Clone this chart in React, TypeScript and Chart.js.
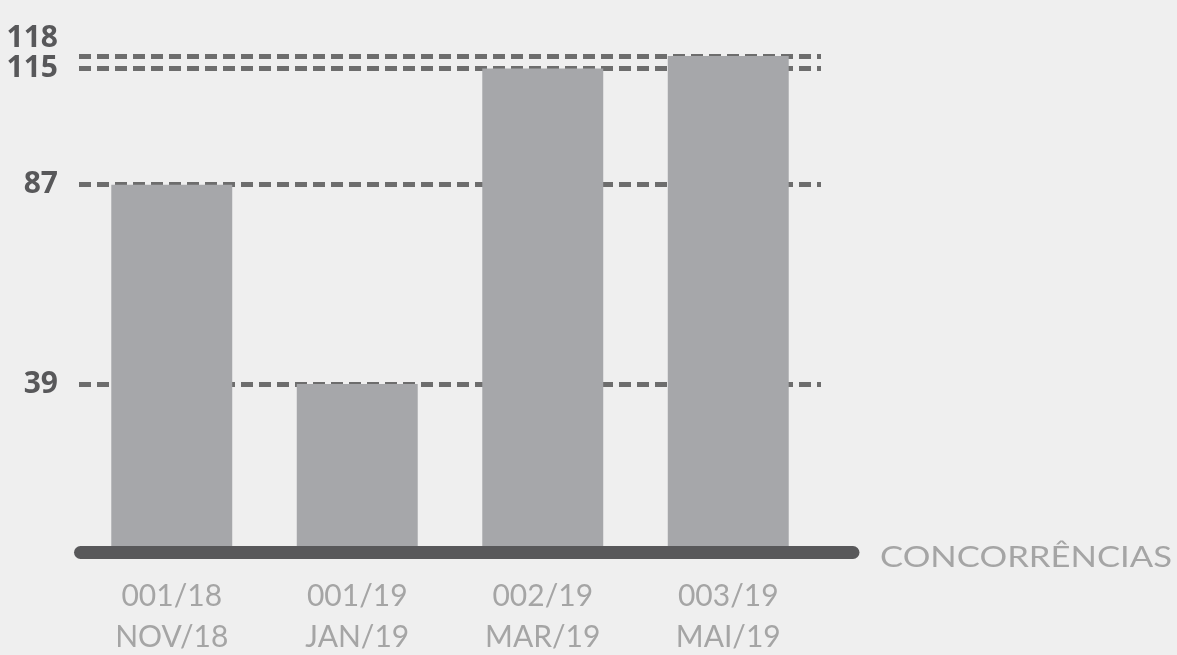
import React, { useEffect, useRef } from "react";
import { Chart, registerables } from "chart.js";

Chart.register(...registerables);

const categoryCodes = ["001/18", "001/19", "002/19", "003/19"];
const categoryMonths = ["NOV/18", "JAN/19", "MAR/19", "MAI/19"];
const values = [87, 39, 115, 118];
const tickValues = [39, 87, 115, 118];
const axisTitle = "CONCORRÊNCIAS";

const BG = "#efefef";
const BAR = "#a6a7aa";
const DARK = "#58585a";
const GRID = "#6d6d6d";
const LIGHT = "#a5a5a5";

const baselinePlugin = {
  id: "baselinePlugin",
  afterDatasetsDraw(chart: any) {
    const { ctx, chartArea } = chart;
    const y = chart.scales.y.getPixelForValue(0) + 6.5;
    ctx.save();
    ctx.strokeStyle = DARK;
    ctx.lineWidth = 13;
    ctx.lineCap = "round";
    ctx.beginPath();
    ctx.moveTo(chartArea.left + 1.5, y);
    ctx.lineTo(chartArea.right + 32, y);
    ctx.stroke();
    ctx.restore();

    ctx.save();
    ctx.fillStyle = LIGHT;
    ctx.font = "400 28px Lato";
    ctx.textBaseline = "alphabetic";
    ctx.textAlign = "left";
    const target = 292;
    const w = ctx.measureText(axisTitle).width;
    const sx = target / w;
    ctx.translate(chartArea.right + 59, y + 14);
    ctx.scale(sx, 1);
    ctx.fillText(axisTitle, 0, 0);
    ctx.restore();
  },
};

export default function App() {
  const ref = useRef<HTMLCanvasElement | null>(null);

  useEffect(() => {
    if (!ref.current) return;
    const chart = new Chart(ref.current, {
      type: "bar",
      data: {
        labels: categoryCodes.map((c, i) => [c, categoryMonths[i]]),
        datasets: [
          {
            data: values,
            backgroundColor: BAR,
            borderWidth: 0,
            barPercentage: 0.652,
            categoryPercentage: 1,
          },
        ],
      },
      options: {
        responsive: true,
        maintainAspectRatio: false,
        animation: false,
        layout: { padding: { top: 27, right: 356, left: 0, bottom: 0 } },
        plugins: {
          legend: { display: false },
          tooltip: { enabled: false },
        },
        scales: {
          x: {
            grid: { display: false, drawTicks: false },
            border: { display: false },
            ticks: {
              color: LIGHT,
              font: { family: "Lato", size: 30, weight: "400", lineHeight: 1.37 },
              padding: 30,
              maxRotation: 0,
              autoSkip: false,
            },
            afterFit(scale: any) {
              scale.height = 109;
              scale.paddingLeft = 0;
              scale.paddingRight = 0;
            },
          },
          y: {
            min: 0,
            max: 125,
            grid: {
              color: GRID,
              lineWidth: 5,
              drawTicks: false,
            },
            border: { display: false, dash: [12, 6] },
            ticks: {
              color: DARK,
              font: { family: "'Open Sans'", size: 30, weight: "bold", lineHeight: 1.2 },
              padding: 21,
              callback(value: any) {
                const v = Number(value);
                if (v === 118) return [String(v), ""];
                return String(v);
              },
            },
            afterBuildTicks(scale: any) {
              scale.ticks = tickValues.map((v) => ({ value: v }));
            },
            afterFit(scale: any) {
              scale.width = 79;
              scale.paddingTop = 0;
              scale.paddingBottom = 0;
            },
          },
        },
      },
      plugins: [baselinePlugin],
    });
    return () => chart.destroy();
  }, []);

  return (
    <div
      style={{
        position: "absolute",
        left: 0,
        top: 0,
        width: 1177,
        height: 655,
        background: BG,
      }}
    >
      <canvas ref={ref} />
    </div>
  );
}
